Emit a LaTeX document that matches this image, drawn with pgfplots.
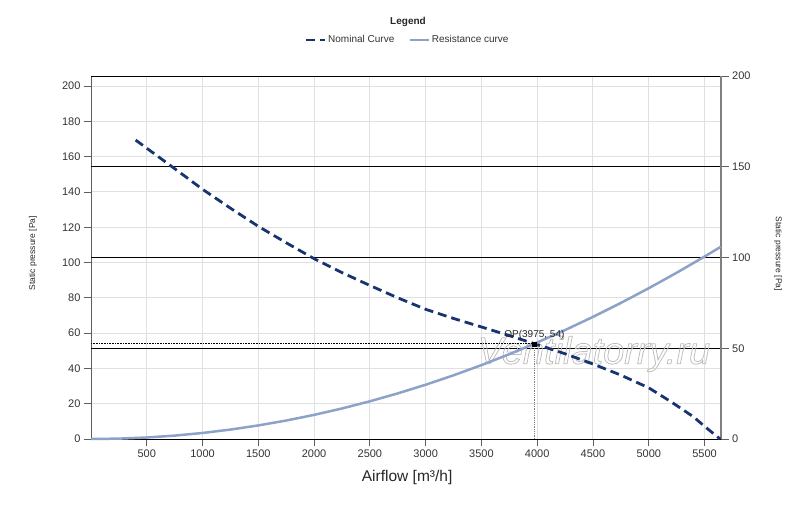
\documentclass[border=0pt]{standalone}
\usepackage{pgfplots}
\pgfplotsset{compat=1.18}
\usepackage{fontspec}
\setmainfont{Liberation Sans}
\definecolor{nomc}{RGB}{24,52,112}
\definecolor{resc}{RGB}{140,162,200}
\definecolor{axc}{RGB}{95,95,95}
\definecolor{gridc}{RGB}{224,224,224}
\definecolor{wmc}{RGB}{190,190,190}

\pgfplotstableread{
x y
400 169.4
750 153.2
1000 141.5
1250 130.8
1500 120.5
1750 111.2
2000 102.2
2250 94.3
2500 87.0
2750 80.0
3000 73.5
3250 68.3
3500 63.5
3750 58.6
3975 54.0
4250 48.3
4500 42.5
4750 36.2
5000 29.0
5200 21.1
5400 12.6
5500 7.2
5640 0.0
}\nominal

\pgfplotstableread{
x y
0 0
250 0.2136
500 0.8544
750 1.9224
1000 3.4176
1250 5.3400
1500 7.6896
1750 10.4664
2000 13.6704
2250 17.3016
2500 21.3600
2750 25.8456
3000 30.7584
3250 36.0984
3500 41.8656
3750 48.0600
3975 54.0
4250 61.730
4500 69.206
4750 77.110
5000 85.440
5250 94.198
5500 103.382
5645 108.90
}\resistance

\begin{document}
\begin{tikzpicture}[x=1pt,y=1pt]
\path[use as bounding box] (0,0) rectangle (800,507);

% left axis with light grid
\begin{axis}[
  at={(91pt,68pt)}, anchor=south west, scale only axis,
  width=629.7pt, height=363pt,
  xmin=0, xmax=5645, ymin=0, ymax=205.7,
  xtick={500,1000,...,5500}, ytick={0,20,...,200},
  grid=major, major grid style={gridc, line width=1pt},
  axis line style={axc, line width=1pt},
  tick style={axc, line width=0.8pt},
  tick align=outside, major tick length=7pt,
  xtick pos=bottom, ytick pos=left,
  ticklabel style={font=\fontsize{11}{13}\selectfont, text=black!80},
  /pgf/number format/assume math mode=true,
  /pgf/number format/set thousands separator={},
  scaled ticks=false,
  xlabel={Airflow [m³/h]},
  xlabel style={font=\fontsize{15.5}{18}\selectfont, text=black!85, at={(axis description cs:0.502,-0.1047)}, anchor=center},
  ylabel={Static pressure [Pa]},
  ylabel style={font=\fontsize{8.5}{10}\selectfont, text=black!85, at={(axis description cs:-0.0921,0.512)}, anchor=center},
]
\end{axis}

% right axis with dark grid
\begin{axis}[
  at={(91pt,68pt)}, anchor=south west, scale only axis,
  width=629.7pt, height=363pt,
  xmin=0, xmax=5645, ymin=0, ymax=200,
  axis x line=none, axis y line*=right,
  ytick={0,50,...,200},
  ymajorgrids, major grid style={black, line width=0.8pt},
  axis line style={gray, line width=1.6pt, -},
  tick style={axc, line width=0.8pt},
  tick align=outside, major tick length=8pt,
  ticklabel style={font=\fontsize{11}{13}\selectfont, text=black!80},
  /pgf/number format/assume math mode=true,
  ylabel={Static pressure [Pa]},
  ylabel style={font=\fontsize{8.5}{10}\selectfont, text=black!85, at={(axis description cs:1.091,0.51)}, anchor=center, rotate=180},
]
\end{axis}

\node[font=\fontsize{38}{40}\selectfont\itshape, text=wmc, inner sep=0pt] at (594,153) {\special{pdf:literal direct 1 Tr 0.8 w}Ventilatorry.ru\special{pdf:literal direct 0 Tr}};

% curves
\begin{axis}[
  at={(91pt,68pt)}, anchor=south west, scale only axis,
  width=629.7pt, height=363pt,
  xmin=0, xmax=5645, ymin=0, ymax=205.7,
  hide axis, clip=false,
  legend style={at={(axis description cs:0.5026,1.0992)}, anchor=center, draw=none, fill=none,
    legend columns=2, font=\fontsize{10}{12}\selectfont, text=black!80,
    /tikz/every even column/.append style={column sep=12pt}},
  legend image code/.code={\draw[#1] (0pt,0pt) -- (19pt,0pt);},
]
\addplot[nomc, line width=2.8pt, dash pattern=on 9pt off 5pt] table[x=x,y=y] {\nominal};
\addlegendentry{Nominal Curve}
\addplot[resc, line width=2.5pt] table[x=x,y=y] {\resistance};
\addlegendentry{Resistance curve}
\addplot[black, line width=0.6pt, densely dotted, forget plot] coordinates {(0,54) (3975,54)};
\addplot[gray, line width=0.8pt, densely dotted, forget plot] coordinates {(3975,0) (3975,54)};
\addplot[black, only marks, mark=square*, mark size=2pt, forget plot] coordinates {(3975,54)};
\node[anchor=base, font=\fontsize{10}{12}\selectfont, text=black!85] at (axis cs:3975,54) [yshift=6pt] {OP(3975, 54)};
\end{axis}

\node[font=\fontsize{10}{12}\selectfont\bfseries, text=black!85] at (408,485) {Legend};
\end{tikzpicture}
\end{document}
